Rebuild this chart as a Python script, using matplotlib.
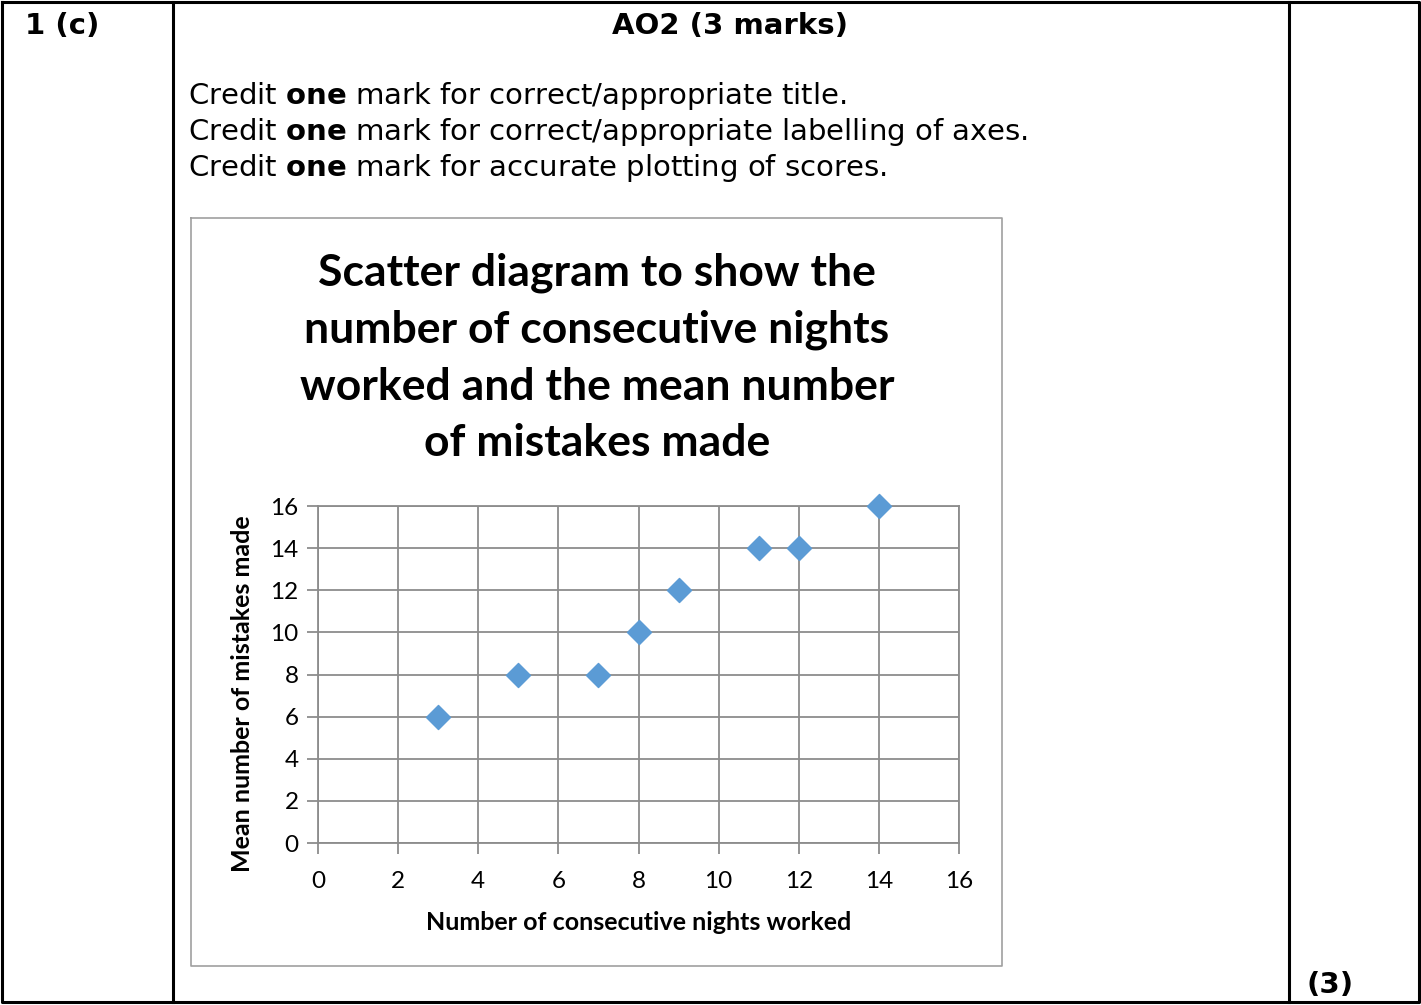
import matplotlib
matplotlib.use("Agg")
import matplotlib.pyplot as plt

# nights worked vs mean mistakes
nights = [3, 5, 7, 8, 9, 11, 12, 14]
mistakes = [6, 8, 8, 10, 12, 14, 14, 16]
ticks = [0, 2, 4, 6, 8, 10, 12, 14, 16]

credit_lines = [
    r"Credit $\mathbf{one}$ mark for correct/appropriate title.",
    r"Credit $\mathbf{one}$ mark for correct/appropriate labelling of axes.",
    r"Credit $\mathbf{one}$ mark for accurate plotting of scores.",
]
title = ("Scatter diagram to show the\nnumber of consecutive nights\n"
         "worked and the mean number\nof mistakes made")

plt.rcParams['mathtext.fontset'] = 'dejavusans'

W, H = 1421, 1005
fig = plt.figure(figsize=(W / 100, H / 100), dpi=100)

# page layer in pixel coords
bg = fig.add_axes([0, 0, 1, 1])
bg.set_xlim(0, W)
bg.set_ylim(H, 0)
bg.axis('off')

# table borders
k = dict(color='black', lw=2.2)
bg.plot([2, 1419, 1419, 2, 2], [2, 2, 1002, 1002, 2], **k)
bg.plot([173, 173], [2, 1002], **k)
bg.plot([1289, 1289], [2, 1002], **k)

fs = 21
bg.text(25, 26, "1 (c)", fontsize=fs, fontweight='bold', ha='left', va='center')
bg.text(730, 26, "AO2 (3 marks)", fontsize=fs, fontweight='bold', ha='center', va='center')
for i, s in enumerate(credit_lines):
    bg.text(188, 96 + 36 * i, s, fontsize=fs, ha='left', va='center')
bg.text(1330, 985, "(3)", fontsize=fs, fontweight='bold', ha='center', va='center')

# chart frame
bg.plot([191, 1002, 1002, 191, 191], [218, 218, 966, 966, 218], color='#a0a0a0', lw=1.2)
bg.text(597, 358, title, fontsize=32, fontweight='bold', family='Lato',
        ha='center', va='center', linespacing=1.5)

# scatter plot
ax = fig.add_axes([318 / W, 1 - 843 / H, (959 - 318) / W, (843 - 506) / H])
ax.set_facecolor('none')
ax.scatter(nights, mistakes, marker='D', s=150, color='#5b9bd5', zorder=3, clip_on=False)
ax.set_xlim(0, 16)
ax.set_ylim(0, 16)
ax.set_xticks(ticks)
ax.set_yticks(ticks)
ax.grid(True, color='#8c8c8c', lw=1.3)
ax.set_axisbelow(True)
for sp in ax.spines.values():
    sp.set_color('#8c8c8c')
    sp.set_linewidth(1.3)
ax.tick_params(colors='#8c8c8c', length=8, width=1.3, labelcolor='black', labelsize=17.5)
ax.tick_params(axis='x', pad=12)
ax.tick_params(axis='y', pad=6)
for lab in ax.get_xticklabels() + ax.get_yticklabels():
    lab.set_family('Lato')
ax.set_xlabel("Number of consecutive nights worked", fontsize=18, fontweight='bold',
              family='Lato', labelpad=14)
ax.set_ylabel("Mean number of mistakes made", fontsize=18, fontweight='bold',
              family='Lato')
ax.yaxis.set_label_coords(-0.10, 0.442)

fig.savefig("out.png", dpi=100)
